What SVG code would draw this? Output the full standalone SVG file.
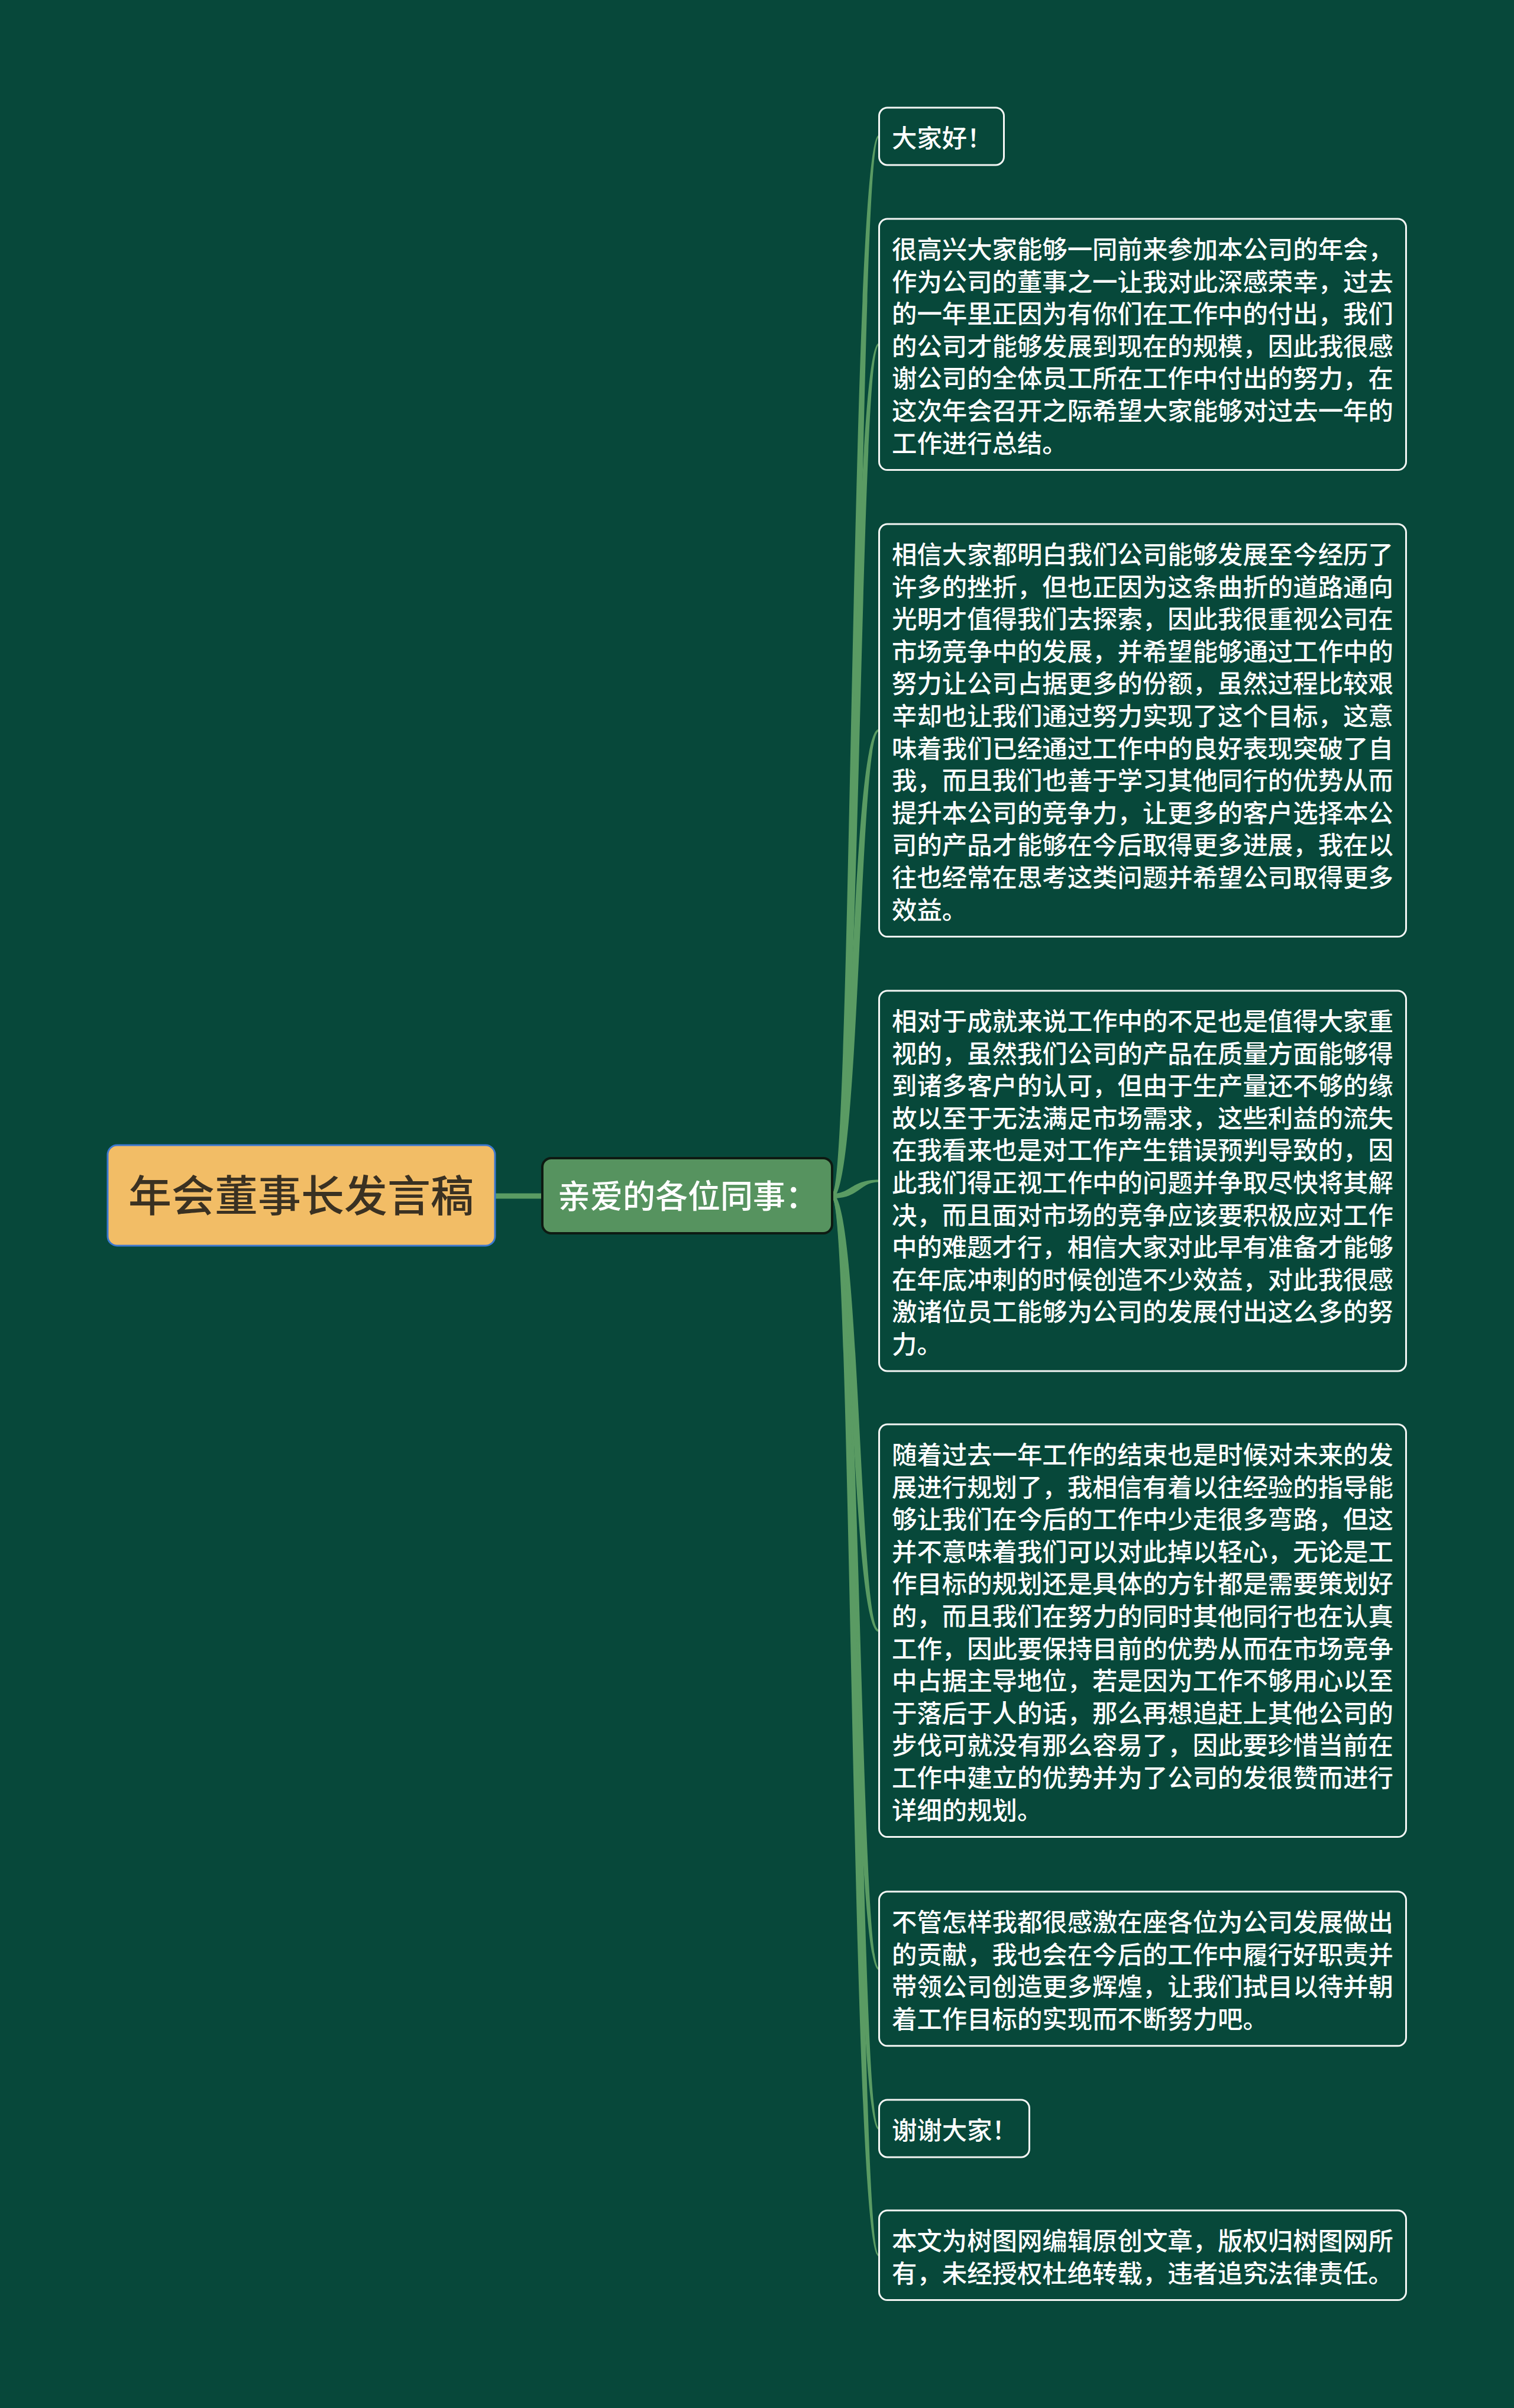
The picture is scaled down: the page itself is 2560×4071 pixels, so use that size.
<svg xmlns="http://www.w3.org/2000/svg" width="2560" height="4071" viewBox="0 0 2560 4071">
<style>
.bg{fill:#07483a}
.conn{fill:#5a9b63;stroke:none}
.bar{stroke:#5a9b63;stroke-width:9;fill:none}
.box{fill:#07483a;stroke:#f4f6f4;stroke-width:3}
.body{font-family:"Noto Sans CJK SC","Noto Sans CJK JP",sans-serif;font-size:42.4px;font-weight:500;fill:#ffffff}
.root{font-family:"Noto Sans CJK SC",sans-serif;font-size:73px;font-weight:500;fill:#3a3122}
.l1{font-family:"Noto Sans CJK SC",sans-serif;font-size:55px;font-weight:500;fill:#ffffff}
</style>
<rect class="bg" x="0" y="0" width="2560" height="4071"/>
<g id="connectors">
<line class="bar" x1="835" y1="2022" x2="919" y2="2022"/>
<path class="conn" d="M1407 2018 C1440 2018 1439 228.5 1486 228.5 L1486 232.5 C1453 232.5 1454 2026 1407 2026 Z"/>
<path class="conn" d="M1407 2018 C1440 2018 1439 580.3 1486 580.3 L1486 584.3 C1453 584.3 1454 2026 1407 2026 Z"/>
<path class="conn" d="M1407 2018 C1440 2018 1439 1232.8 1486 1232.8 L1486 1236.8 C1453 1236.8 1454 2026 1407 2026 Z"/>
<path class="conn" d="M1407 2018 C1440 2018 1439 1994.5 1486 1994.5 L1486 1998.5 C1453 1998.5 1454 2026 1407 2026 Z"/>
<path class="conn" d="M1407 2026 C1440 2026 1439 2758.8 1486 2758.8 L1486 2754.8 C1453 2754.8 1454 2018 1407 2018 Z"/>
<path class="conn" d="M1407 2026 C1440 2026 1439 3330.4 1486 3330.4 L1486 3326.4 C1453 3326.4 1454 2018 1407 2018 Z"/>
<path class="conn" d="M1407 2026 C1440 2026 1439 3600.5 1486 3600.5 L1486 3596.5 C1453 3596.5 1454 2018 1407 2018 Z"/>
<path class="conn" d="M1407 2026 C1440 2026 1439 3814.8 1486 3814.8 L1486 3810.8 C1453 3810.8 1454 2018 1407 2018 Z"/>
</g>
<g id="root">
<rect x="182" y="1936" width="655" height="170" rx="16" fill="#f2bd66" stroke="#3c78cf" stroke-width="3"/>
<text class="root" x="509" y="2048" text-anchor="middle">年会董事长发言稿</text>
</g>
<g id="level1">
<rect x="917" y="1958" width="490" height="127" rx="15" fill="#56935f" stroke="#0e1a12" stroke-width="4"/>
<text class="l1" x="943" y="2042">亲爱的各位同事：</text>
</g>
<g id="n1">
<rect class="box" x="1486.5" y="182" width="211" height="97" rx="14"/>
<text class="body" x="1508" y="249">大家好！</text>
</g>
<g id="n2">
<rect class="box" x="1486.5" y="370" width="891" height="424.6" rx="14"/>
<text class="body" x="1508" y="437"><tspan x="1508">很高兴大家能够一同前来参加本公司的年会，</tspan><tspan x="1508" dy="54.6">作为公司的董事之一让我对此深感荣幸，过去</tspan><tspan x="1508" dy="54.6">的一年里正因为有你们在工作中的付出，我们</tspan><tspan x="1508" dy="54.6">的公司才能够发展到现在的规模，因此我很感</tspan><tspan x="1508" dy="54.6">谢公司的全体员工所在工作中付出的努力，在</tspan><tspan x="1508" dy="54.6">这次年会召开之际希望大家能够对过去一年的</tspan><tspan x="1508" dy="54.6">工作进行总结。</tspan></text>
</g>
<g id="n3">
<rect class="box" x="1486.5" y="886" width="891" height="697.6" rx="14"/>
<text class="body" x="1508" y="953"><tspan x="1508">相信大家都明白我们公司能够发展至今经历了</tspan><tspan x="1508" dy="54.6">许多的挫折，但也正因为这条曲折的道路通向</tspan><tspan x="1508" dy="54.6">光明才值得我们去探索，因此我很重视公司在</tspan><tspan x="1508" dy="54.6">市场竞争中的发展，并希望能够通过工作中的</tspan><tspan x="1508" dy="54.6">努力让公司占据更多的份额，虽然过程比较艰</tspan><tspan x="1508" dy="54.6">辛却也让我们通过努力实现了这个目标，这意</tspan><tspan x="1508" dy="54.6">味着我们已经通过工作中的良好表现突破了自</tspan><tspan x="1508" dy="54.6">我，而且我们也善于学习其他同行的优势从而</tspan><tspan x="1508" dy="54.6">提升本公司的竞争力，让更多的客户选择本公</tspan><tspan x="1508" dy="54.6">司的产品才能够在今后取得更多进展，我在以</tspan><tspan x="1508" dy="54.6">往也经常在思考这类问题并希望公司取得更多</tspan><tspan x="1508" dy="54.6">效益。</tspan></text>
</g>
<g id="n4">
<rect class="box" x="1486.5" y="1675" width="891" height="643" rx="14"/>
<text class="body" x="1508" y="1742"><tspan x="1508">相对于成就来说工作中的不足也是值得大家重</tspan><tspan x="1508" dy="54.6">视的，虽然我们公司的产品在质量方面能够得</tspan><tspan x="1508" dy="54.6">到诸多客户的认可，但由于生产量还不够的缘</tspan><tspan x="1508" dy="54.6">故以至于无法满足市场需求，这些利益的流失</tspan><tspan x="1508" dy="54.6">在我看来也是对工作产生错误预判导致的，因</tspan><tspan x="1508" dy="54.6">此我们得正视工作中的问题并争取尽快将其解</tspan><tspan x="1508" dy="54.6">决，而且面对市场的竞争应该要积极应对工作</tspan><tspan x="1508" dy="54.6">中的难题才行，相信大家对此早有准备才能够</tspan><tspan x="1508" dy="54.6">在年底冲刺的时候创造不少效益，对此我很感</tspan><tspan x="1508" dy="54.6">激诸位员工能够为公司的发展付出这么多的努</tspan><tspan x="1508" dy="54.6">力。</tspan></text>
</g>
<g id="n5">
<rect class="box" x="1486.5" y="2408" width="891" height="697.6" rx="14"/>
<text class="body" x="1508" y="2475"><tspan x="1508">随着过去一年工作的结束也是时候对未来的发</tspan><tspan x="1508" dy="54.6">展进行规划了，我相信有着以往经验的指导能</tspan><tspan x="1508" dy="54.6">够让我们在今后的工作中少走很多弯路，但这</tspan><tspan x="1508" dy="54.6">并不意味着我们可以对此掉以轻心，无论是工</tspan><tspan x="1508" dy="54.6">作目标的规划还是具体的方针都是需要策划好</tspan><tspan x="1508" dy="54.6">的，而且我们在努力的同时其他同行也在认真</tspan><tspan x="1508" dy="54.6">工作，因此要保持目前的优势从而在市场竞争</tspan><tspan x="1508" dy="54.6">中占据主导地位，若是因为工作不够用心以至</tspan><tspan x="1508" dy="54.6">于落后于人的话，那么再想追赶上其他公司的</tspan><tspan x="1508" dy="54.6">步伐可就没有那么容易了，因此要珍惜当前在</tspan><tspan x="1508" dy="54.6">工作中建立的优势并为了公司的发很赞而进行</tspan><tspan x="1508" dy="54.6">详细的规划。</tspan></text>
</g>
<g id="n6">
<rect class="box" x="1486.5" y="3198" width="891" height="260.8" rx="14"/>
<text class="body" x="1508" y="3265"><tspan x="1508">不管怎样我都很感激在座各位为公司发展做出</tspan><tspan x="1508" dy="54.6">的贡献，我也会在今后的工作中履行好职责并</tspan><tspan x="1508" dy="54.6">带领公司创造更多辉煌，让我们拭目以待并朝</tspan><tspan x="1508" dy="54.6">着工作目标的实现而不断努力吧。</tspan></text>
</g>
<g id="n7">
<rect class="box" x="1486.5" y="3550" width="254" height="97" rx="14"/>
<text class="body" x="1508" y="3617">谢谢大家！</text>
</g>
<g id="n8">
<rect class="box" x="1486.5" y="3737" width="891" height="151.6" rx="14"/>
<text class="body" x="1508" y="3804"><tspan x="1508">本文为树图网编辑原创文章，版权归树图网所</tspan><tspan x="1508" dy="54.6">有，未经授权杜绝转载，违者追究法律责任。</tspan></text>
</g>
</svg>
